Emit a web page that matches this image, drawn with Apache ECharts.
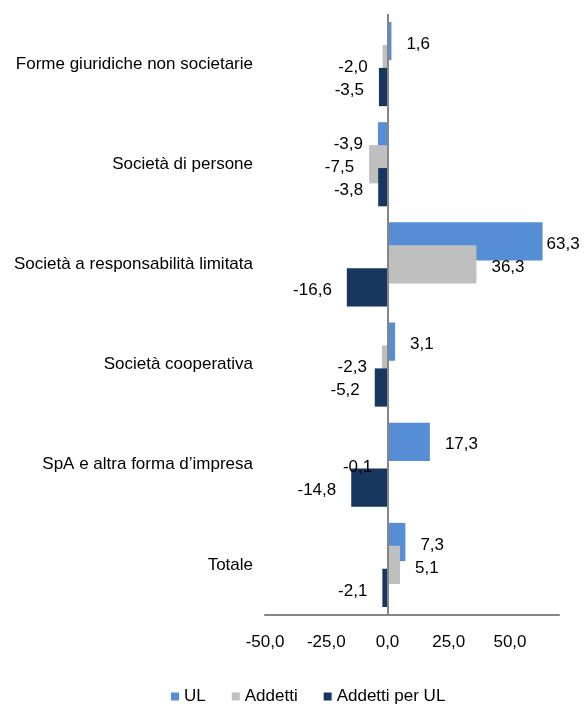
<!DOCTYPE html>
<html>
<head>
<meta charset="utf-8">
<script src="https://cdn.jsdelivr.net/npm/echarts@6/dist/echarts.min.js"></script>
<style>
  html, body { margin: 0; padding: 0; background: #fff; }
  #chart { width: 584px; height: 704px; }
</style>
</head>
<body>
<div id="chart"></div>
<script>
// categorie e serie
var categorie = ['Forme giuridiche non societarie', 'Società di persone', 'Società a responsabilità limitata', 'Società cooperativa', 'SpA e altra forma d\u2019impresa', 'Totale'];
var ul = [1.6, -3.9, 63.3, 3.1, 17.3, 7.3];
var addetti = [-2.0, -7.5, 36.3, -2.3, -0.1, 5.1];
var addettiPerUl = [-3.5, -3.8, -16.6, -5.2, -14.8, -2.1];
var tickX = [-50, -25, 0, 25, 50];

var font = "'Liberation Sans', Arial, sans-serif";
var fs = 17;

(function(){
    var myChart = echarts.init(document.getElementById('chart'));

    // etichette a destra per i positivi, a sinistra per i negativi
    function punti(arr) {
        return arr.map(function (v) {
            return {
                value: v,
                label: {
                    position: v >= 0 ? 'right' : 'left',
                    distance: v > 60 ? 4 : 15
                }
            };
        });
    }

    var etichetta = {
        show: true,
        fontFamily: font,
        fontSize: fs,
        color: '#000',
        offset: [0, 3],
        formatter: function (p) { return p.value.toFixed(1).replace('.', ','); }
    };

    var option = {
        animation: false,
        textStyle: { fontFamily: font },
        color: ['#558ED5', '#BFBFBF', '#17375E'],
        grid: { left: 265, right: 25, top: 14, bottom: 89, outerBoundsMode: 'none', containLabel: false },
        legend: {
            top: 683,
            left: 166,
            itemWidth: 8,
            itemHeight: 8,
            itemGap: 26,
            icon: 'rect',
            textStyle: { fontFamily: font, fontSize: fs, color: '#000' },
            data: ['UL', 'Addetti', 'Addetti per UL']
        },
        xAxis: {
            type: 'value',
            min: -50,
            max: 70,
            interval: 25,
            axisLine: { show: true, onZero: false, lineStyle: { color: '#868686', width: 2 } },
            axisTick: { show: false },
            splitLine: { show: false },
            axisLabel: {
                showMaxLabel: false,
                margin: 19,
                fontFamily: font,
                fontSize: fs,
                color: '#000',
                formatter: function (v) { return tickX.indexOf(v) >= 0 ? v.toFixed(1).replace('.', ',') : ''; }
            }
        },
        yAxis: {
            type: 'category',
            inverse: true,
            data: categorie,
            axisLine: { show: false },
            axisTick: { show: false },
            axisLabel: { margin: 12, padding: [6, 0, 0, 0], fontFamily: font, fontSize: fs, color: '#000' }
        },
        series: [
            {
                name: 'UL',
                type: 'bar',
                barGap: '-40%',
                barCategoryGap: '16%',
                data: punti(ul),
                label: etichetta,
                markLine: {
                    silent: true,
                    symbol: 'none',
                    label: { show: false },
                    lineStyle: { color: '#868686', width: 2, type: 'solid' },
                    data: [{ xAxis: 0 }]
                }
            },
            {
                name: 'Addetti',
                type: 'bar',
                barGap: '-40%',
                barCategoryGap: '16%',
                data: punti(addetti),
                label: etichetta
            },
            {
                name: 'Addetti per UL',
                type: 'bar',
                barGap: '-40%',
                barCategoryGap: '16%',
                data: punti(addettiPerUl),
                label: etichetta
            }
        ]
    };
    myChart.setOption(option);
})();
</script>
</body>
</html>
